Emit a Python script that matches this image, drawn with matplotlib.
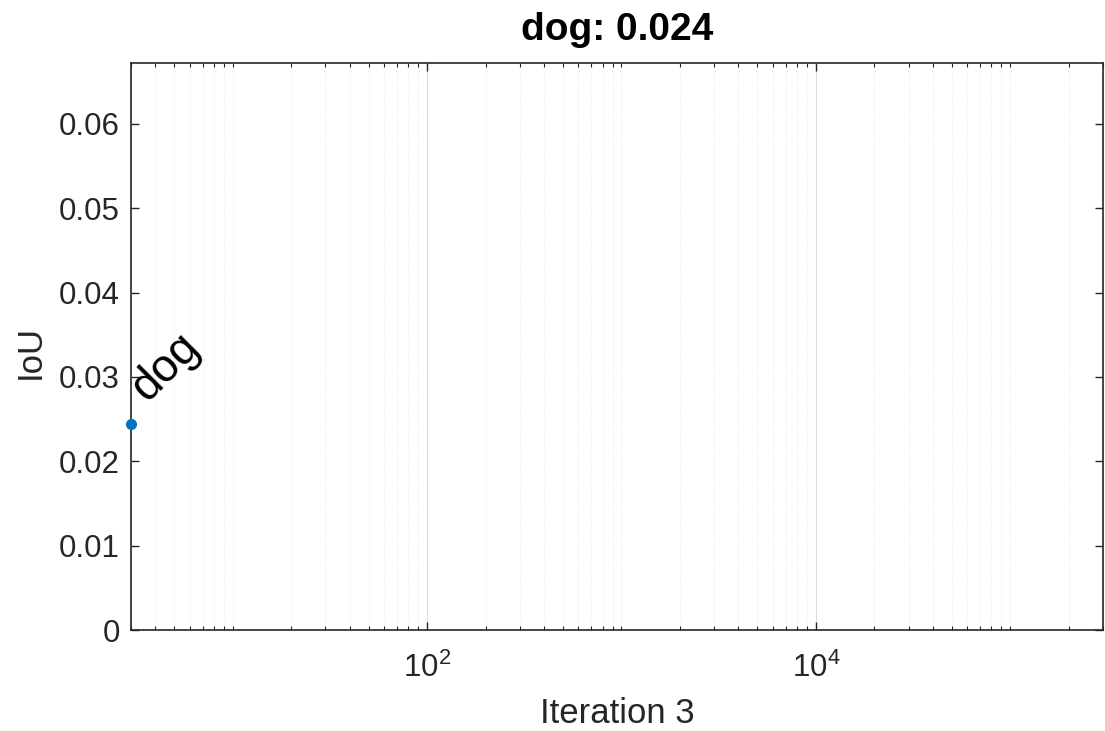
import matplotlib
matplotlib.use('Agg')
import matplotlib.pyplot as plt
from matplotlib.ticker import LogLocator, FuncFormatter, NullFormatter

# data
iterations = [3]
iou = [0.0244]
label = 'dog'
title = 'dog: 0.024'
xlim = [3, 3e5]
ylim = [0, 0.0672]
xticks = [1e2, 1e4]
yticks = [0, 0.01, 0.02, 0.03, 0.04, 0.05, 0.06]

plt.rcParams['font.family'] = ['Liberation Sans', 'DejaVu Sans']
plt.rcParams['mathtext.fontset'] = 'custom'
plt.rcParams['mathtext.rm'] = 'Liberation Sans'

dark = '#262626'
fig = plt.figure(figsize=(11.05, 7.31), dpi=100)
ax = fig.add_axes([131/1105, 1 - 630/731, (1103 - 131)/1105, (630 - 63)/731])

ax.set_xscale('log')
ax.plot(iterations, iou, 'o', color='#0072BD', markersize=7, clip_on=False, zorder=5)
ax.annotate(label, (iterations[0], iou[0]), xytext=(11.5, 15), textcoords='offset points',
            rotation=45, rotation_mode='anchor', ha='left', va='baseline',
            fontsize=33, color='black')

ax.set_xlim(xlim)
ax.set_ylim(ylim)
ax.set_xticks(xticks)
ax.xaxis.set_minor_locator(LogLocator(base=10, subs=range(1, 10), numticks=20))
ax.xaxis.set_minor_formatter(NullFormatter())
ax.set_yticks(yticks)
ax.yaxis.set_major_formatter(FuncFormatter(lambda v, p: '%g' % v))

ax.grid(True, axis='x', which='major', color='#dcdcdc', linewidth=0.8)
ax.grid(True, axis='x', which='minor', color='#ebebeb', linestyle=':', linewidth=0.8)

for s in ax.spines.values():
    s.set_color(dark)
    s.set_linewidth(1.2)
ax.tick_params(which='both', direction='in', top=True, right=True, colors=dark, labelsize=22.5)
ax.tick_params(which='major', length=6, width=1)
ax.tick_params(which='minor', length=3, width=0.8)
ax.tick_params(axis='x', pad=16)
ax.tick_params(axis='y', pad=8)

ax.set_xlabel('Iteration 3', fontsize=25, color=dark)
ax.xaxis.set_label_coords(0.5, -0.119)
ax.set_ylabel('IoU', fontsize=25, color=dark)
ax.yaxis.set_label_coords(-0.087, 0.49)
ax.set_title(title, fontsize=28, fontweight='bold', pad=16.5)

fig.savefig('out.png', dpi=100)
